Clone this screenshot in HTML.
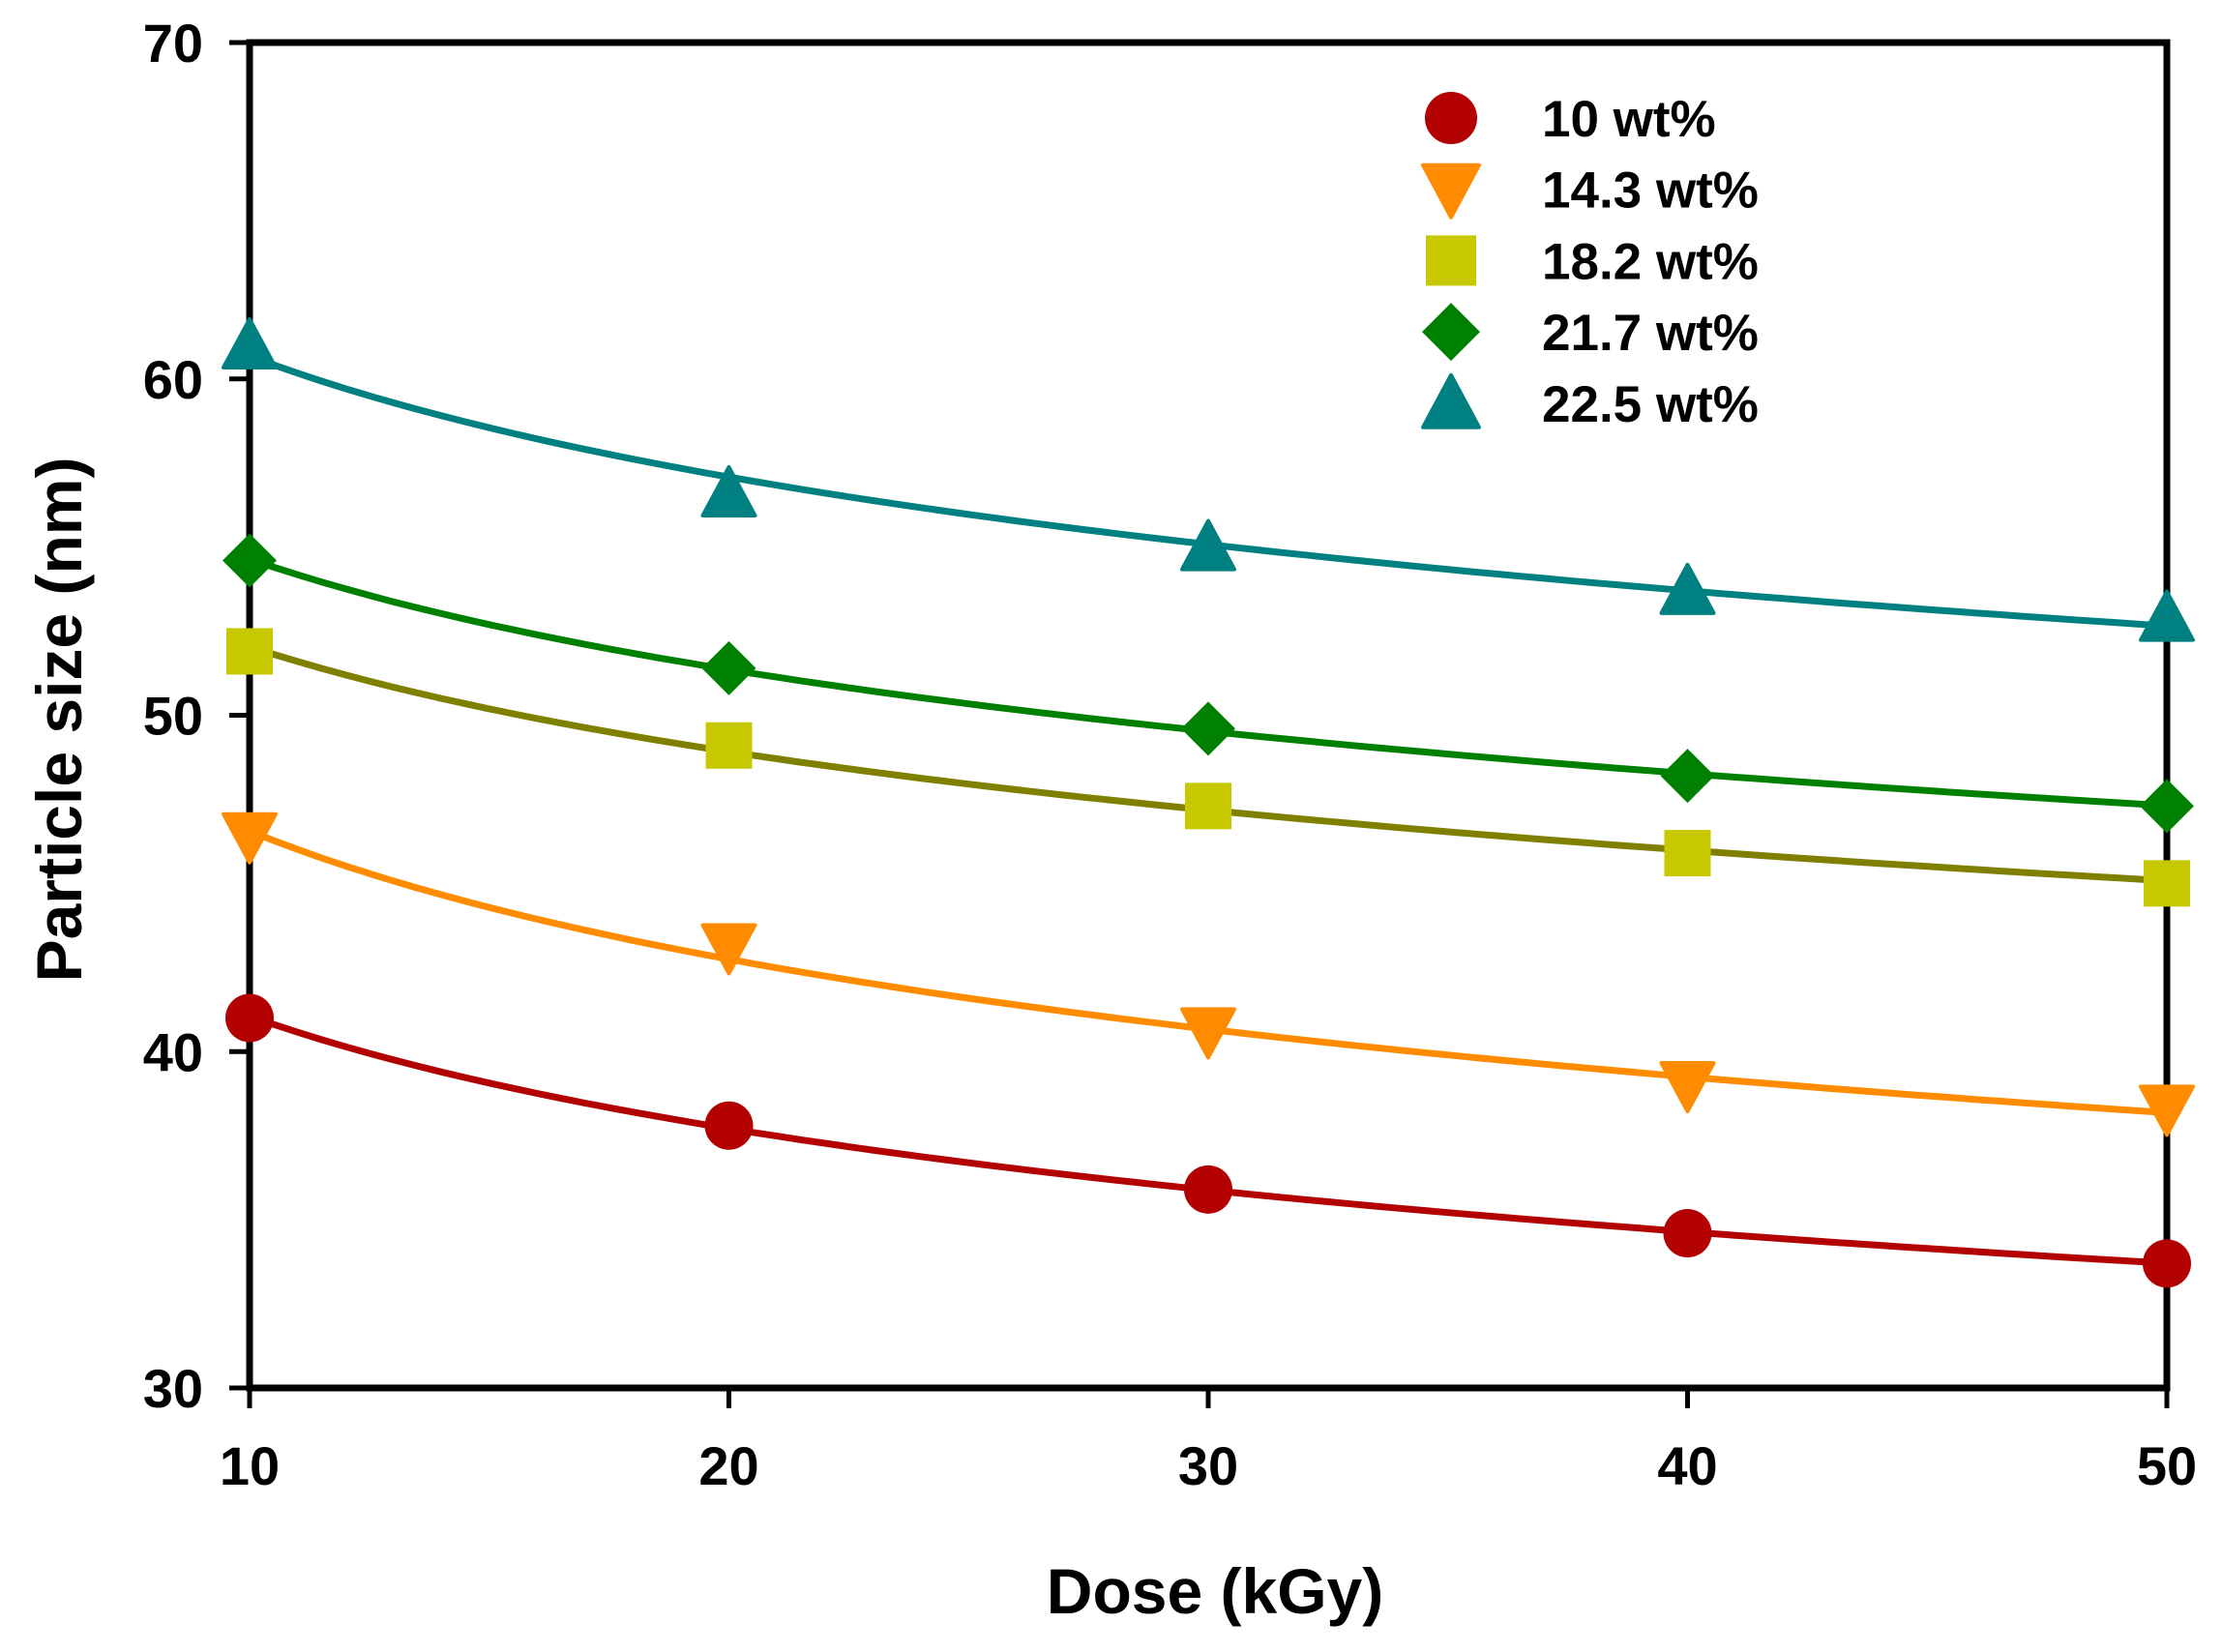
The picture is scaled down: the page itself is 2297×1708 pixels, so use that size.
<!DOCTYPE html>
<html><head><meta charset="utf-8"><style>
html,body{margin:0;padding:0;background:#fff}
svg{display:block;font-family:"Liberation Sans",Arial,sans-serif;font-weight:bold}
</style></head><body>
<svg id="chart" width="2297" height="1708" viewBox="0 0 2297 1708" xmlns="http://www.w3.org/2000/svg">
<g id="axes"></g>
<g id="series"></g>
<g id="legend"></g>
<text x="1256" y="1668" font-size="66" text-anchor="middle">Dose (kGy)</text>
<text transform="translate(84,744) rotate(-90)" font-size="66" text-anchor="middle">Particle size (nm)</text>
</svg>
<script>
const doses = [10, 20, 30, 40, 50];
const xTicks = [10, 20, 30, 40, 50];
const yTicks = [30, 40, 50, 60, 70];
const seriesNames = ["10 wt%", "14.3 wt%", "18.2 wt%", "21.7 wt%", "22.5 wt%"];
const s10 = [41.0, 37.8, 35.9, 34.6, 33.7];
const s143 = [46.4, 43.1, 40.6, 39.0, 38.3];
const s182 = [51.9, 49.1, 47.3, 45.9, 45.0];
const s217 = [54.6, 51.4, 49.6, 48.2, 47.3];
const s225 = [61.0, 56.6, 55.0, 53.7, 52.9];
const allSeries = [s10, s143, s182, s217, s225];

const NS = "http://www.w3.org/2000/svg";
const L = 258, R = 2240, T = 44, B = 1435;
const xMin = 10, xMax = 50, yMin = 30, yMax = 70;
function xs(v){ return L + (v - xMin) / (xMax - xMin) * (R - L); }
function ys(v){ return B - (v - yMin) / (yMax - yMin) * (B - T); }
function mk(tag, attrs, parent){
  const e = document.createElementNS(NS, tag);
  for (const k in attrs) e.setAttribute(k, attrs[k]);
  parent.appendChild(e); return e;
}
const styles = [
  {line:"#b30000", fill:"#b30000", shape:"circle"},
  {line:"#ff8c00", fill:"#ff8c00", shape:"down"},
  {line:"#808000", fill:"#c8c800", shape:"square"},
  {line:"#008000", fill:"#008000", shape:"diamond"},
  {line:"#008080", fill:"#008080", shape:"up"}
];
function marker(shape, cx, cy, color, parent, r){
  r = r || 25; let el;
  if (shape === "circle") el = mk("circle", {cx:cx, cy:cy, r:r, fill:color}, parent);
  else if (shape === "square") el = mk("rect", {x:cx-r+1, y:cy-r+1, width:2*r-2, height:2*r-2, fill:color}, parent);
  else if (shape === "diamond") el = mk("polygon", {points:`${cx},${cy-r-3} ${cx+r+3},${cy} ${cx},${cy+r+3} ${cx-r-3},${cy}`, fill:color}, parent);
  else if (shape === "up") el = mk("polygon", {points:`${cx},${cy-r-2} ${cx+r+2},${cy+r-2} ${cx-r-2},${cy+r-2}`, fill:color, "stroke":color, "stroke-width":4, "stroke-linejoin":"round"}, parent);
  else el = mk("polygon", {points:`${cx},${cy+r+2} ${cx+r+2},${cy-r+2} ${cx-r-2},${cy-r+2}`, fill:color, "stroke":color, "stroke-width":4, "stroke-linejoin":"round"}, parent);
  return el;
}
const ax = document.getElementById("axes");
const frame = mk("rect", {x:L, y:T, width:R-L, height:B-T, fill:"none", stroke:"#000", "stroke-width":7}, ax);


yTicks.forEach(v => {
  const t = mk("line", {x1:L-21, x2:L, y1:ys(v), y2:ys(v), stroke:"#000", "stroke-width":5}, ax);
  
  
  const lb = mk("text", {x:210, y:ys(v)+20, "font-size":56, "text-anchor":"end"}, ax);
  lb.textContent = v;
  
  
});
xTicks.forEach(v => {
  const t = mk("line", {x1:xs(v), x2:xs(v), y1:B, y2:B+21, stroke:"#000", "stroke-width":5}, ax);
  
  
  const lb = mk("text", {x:xs(v), y:1535, "font-size":56, "text-anchor":"middle"}, ax);
  lb.textContent = v;
  
  
});
const sg = document.getElementById("series");
allSeries.forEach((vals, i) => {
  const lx = doses.map(Math.log), ly = vals.map(Math.log);
  const n = lx.length, mx = lx.reduce((a,b)=>a+b)/n, my = ly.reduce((a,b)=>a+b)/n;
  let num=0, den=0; for (let k=0;k<n;k++){ num+=(lx[k]-mx)*(ly[k]-my); den+=(lx[k]-mx)**2; }
  const b = num/den, a = Math.exp(my - b*mx);
  let d = "";
  for (let x = xMin; x <= xMax + 1e-9; x += 0.5) d += (d ? " L" : "M") + xs(x).toFixed(1) + "," + ys(a*Math.pow(x,b)).toFixed(1);
  const p = mk("path", {d:d, fill:"none", stroke:styles[i].line, "stroke-width":7}, sg);
  
  
  vals.forEach((v, j) => {
    const m = marker(styles[i].shape, xs(doses[j]), ys(v), styles[i].fill, sg);
    
    
  });
});
const lg = document.getElementById("legend");
seriesNames.forEach((name, i) => {
  const y = 122 + i * 73.7;
  const m = marker(styles[i].shape, 1500, y, styles[i].fill, lg, 27);
  
  
  const t = mk("text", {x:1594, y:y+19, "font-size":53}, lg);
  t.textContent = name;
  
  
});
</script>
</body></html>
